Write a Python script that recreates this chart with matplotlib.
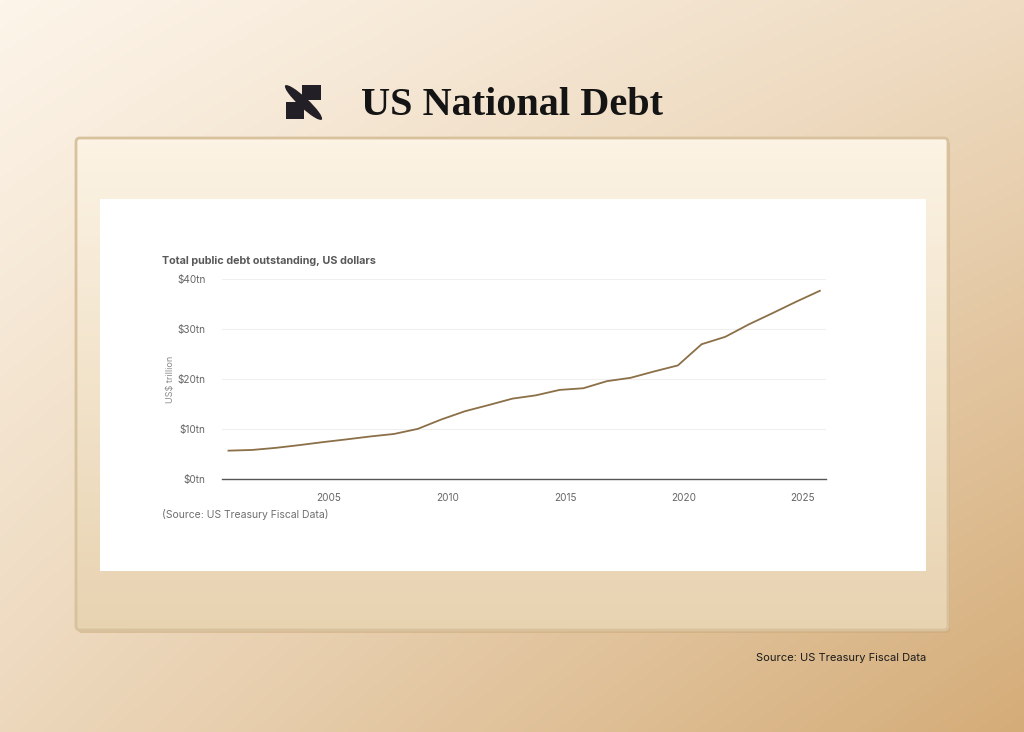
import numpy as np
import matplotlib
matplotlib.use("Agg")
import matplotlib.pyplot as plt
from matplotlib.patches import FancyBboxPatch, Rectangle, Ellipse

# fiscal year-end (Sept 30) public debt, trillions of US dollars
years = [2000, 2001, 2002, 2003, 2004, 2005, 2006, 2007, 2008, 2009, 2010, 2011, 2012,
         2013, 2014, 2015, 2016, 2017, 2018, 2019, 2020, 2021, 2022, 2023, 2024, 2025]
debt = [5.67, 5.81, 6.23, 6.78, 7.38, 7.93, 8.51, 9.01, 10.02, 11.91, 13.56, 14.79, 16.07,
        16.74, 17.82, 18.15, 19.57, 20.24, 21.52, 22.72, 26.95, 28.43, 30.93, 33.17, 35.46, 37.64]
x_years = [y + 0.75 for y in years]

y_ticks = [0, 10, 20, 30, 40]
y_labels = ["$0tn", "$10tn", "$20tn", "$30tn", "$40tn"]
x_ticks = [2005, 2010, 2015, 2020, 2025]

W, H = 1024, 732
fig = plt.figure(figsize=(W / 100, H / 100), dpi=100)

# --- background gradient ---
bg = fig.add_axes([0, 0, 1, 1])
bg.set_xlim(0, W)
bg.set_ylim(H, 0)
bg.axis("off")
xx, yy = np.meshgrid(np.linspace(0, 1, 256), np.linspace(0, 1, 183))
t = np.clip(0.35 * xx + 0.4 * yy + 0.25 * xx * yy, 0, 1)
c0 = np.array([253, 245, 234]) / 255
c1 = np.array([212, 172, 120]) / 255
img = c0 * (1 - t[..., None]) + c1 * t[..., None]
bg.imshow(img, extent=[0, W, H, 0], aspect="auto", zorder=0)

# --- panel ---
shadow = FancyBboxPatch((78, 141), 872, 492, boxstyle="round,pad=0,rounding_size=4",
                        fc="#c9a877", ec="none", alpha=0.5, zorder=1)
bg.add_patch(shadow)
panel = FancyBboxPatch((76, 138), 872, 492, boxstyle="round,pad=0,rounding_size=4",
                       fc="none", ec="#d8c29e", lw=2, zorder=3)
bg.add_patch(panel)
pt = np.linspace(0, 1, 100)[:, None]
pc0 = np.array([252, 243, 228]) / 255
pc1 = np.array([232, 211, 177]) / 255
pimg = pc0 * (1 - pt[..., None]) + pc1 * pt[..., None]
pimg = np.repeat(pimg, 2, axis=1)
im = bg.imshow(pimg, extent=[76, 948, 630, 138], aspect="auto", zorder=2)
im.set_clip_path(panel)
bg.add_patch(Rectangle((100, 199), 826, 372, fc="white", ec="none", zorder=4))

# --- logo ---
bg.add_patch(Rectangle((302, 85), 19, 15, fc="#231f26", ec="none", zorder=5))
bg.add_patch(Rectangle((286, 102), 18, 17, fc="#231f26", ec="none", zorder=5))
bg.add_patch(Ellipse((303.5, 102.5), 50, 10, angle=43, fc="#231f26", ec="none", zorder=5))

# --- titles ---
fig.text(361 / W, 1 - 115 / H, "US National Debt", family="Liberation Serif",
         weight="bold", fontsize=29, color="#141414", ha="left", va="baseline")
fig.text(926 / W, 1 - 658 / H, "Source: US Treasury Fiscal Data", family="Inter",
         fontsize=8, color="#1a1a1a", ha="right", va="center")
fig.text(162 / W, 1 - 261 / H, "Total public debt outstanding, US dollars", family="Inter",
         weight="bold", fontsize=7.8, color="#595959", ha="left", va="center")
fig.text(162 / W, 1 - 514 / H, "(Source: US Treasury Fiscal Data)", family="Inter",
         fontsize=7.5, color="#6f6f6f", ha="left", va="center")
fig.text(171 / W, 1 - 379 / H, "US$ trillion", family="Inter", fontsize=6.5,
         color="#8a8a8a", rotation=90, ha="center", va="center")

# --- chart ---
ax = fig.add_axes([222 / W, 1 - 479 / H, 604 / W, 200 / H])
ax.set_facecolor("none")
ax.plot(x_years, debt, color="#8b6f47", lw=1.3, zorder=3)
ax.set_xlim(2000.476, 2026.01)
ax.set_ylim(0, 40)
ax.set_yticks(y_ticks)
ax.set_yticklabels(y_labels)
ax.set_xticks(x_ticks)
ax.set_xticklabels([str(v) for v in x_ticks])
ax.grid(axis="y", color="#efefef", lw=0.8)
ax.set_axisbelow(True)
for s in ["top", "right", "left"]:
    ax.spines[s].set_visible(False)
ax.spines["bottom"].set_color("#555555")
ax.spines["bottom"].set_linewidth(1)
ax.tick_params(axis="both", length=0, labelsize=7.2, colors="#666666")
ax.tick_params(axis="y", pad=12)
ax.tick_params(axis="x", pad=10)
for lbl in ax.get_xticklabels() + ax.get_yticklabels():
    lbl.set_family("Inter")

fig.savefig("out.png", dpi=100)
